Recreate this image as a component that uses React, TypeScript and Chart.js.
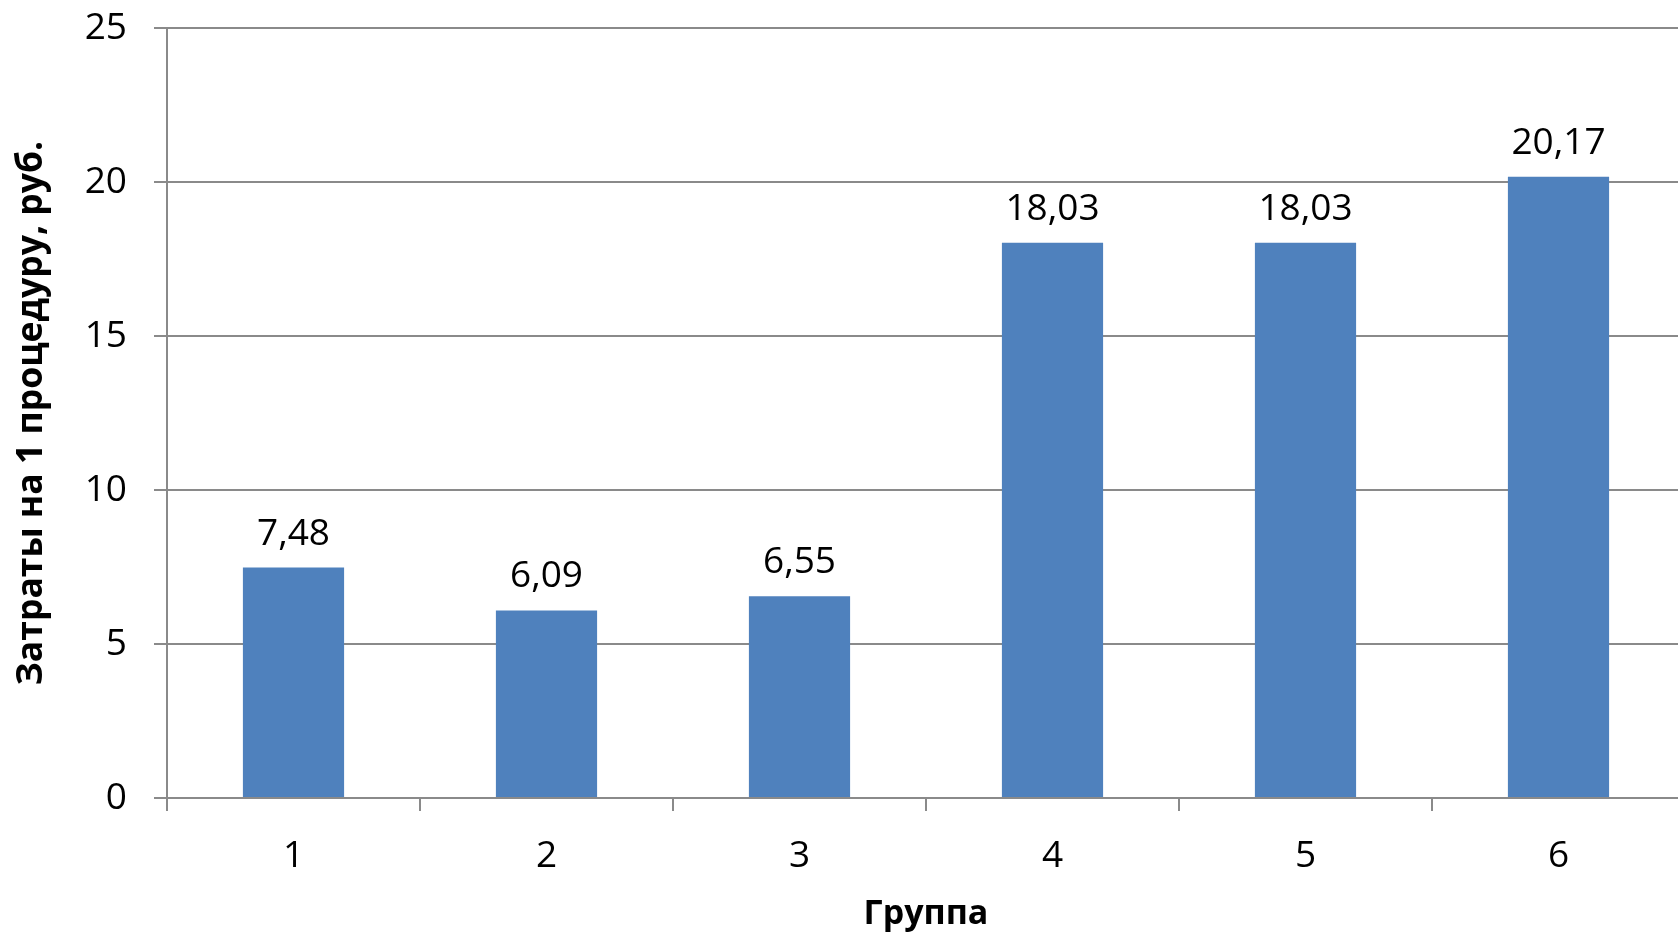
import React, { useEffect, useRef } from "react";
import { Chart, registerables } from "chart.js";

Chart.register(...registerables);

const categories = ["1", "2", "3", "4", "5", "6"];
const costs = [7.48, 6.09, 6.55, 18.03, 18.03, 20.17];
const yTicks = [0, 5, 10, 15, 20, 25];
const xTitle = "Группа";
const yTitle = "Затраты на 1 процедуру, руб.";

const FONT = "'Open Sans', 'DejaVu Sans', sans-serif";
const GRID = "#8a8a8a";

const labelPlugin = {
  id: "valueLabels",
  afterDatasetsDraw(chart: any) {
    const { ctx } = chart;
    const meta = chart.getDatasetMeta(0);
    ctx.save();
    ctx.font = `37px ${FONT}`;
    ctx.fillStyle = "#000";
    ctx.textAlign = "center";
    ctx.textBaseline = "alphabetic";
    meta.data.forEach((bar: any, i: number) => {
      const v = chart.data.datasets[0].data[i] as number;
      ctx.fillText(v.toFixed(2).replace(".", ","), bar.x, bar.y - 23);
    });
    ctx.restore();
  },
};

export default function App() {
  const ref = useRef<HTMLCanvasElement>(null);
  useEffect(() => {
    if (!ref.current) return;
    const chart = new Chart(ref.current, {
      type: "bar",
      data: {
        labels: categories,
        datasets: [
          {
            data: costs,
            backgroundColor: "#4f81bd",
            borderWidth: 0,
            barPercentage: 0.4,
            categoryPercentage: 1,
          },
        ],
      },
      options: {
        animation: false,
        responsive: false,
        maintainAspectRatio: false,
        devicePixelRatio: 1,
        layout: { padding: { top: 28, right: 15, left: 0, bottom: 0 } },
        plugins: {
          legend: { display: false },
          tooltip: { enabled: false },
          title: { display: false },
        },
        scales: {
          x: {
            grid: {
              display: true,
              drawOnChartArea: false,
              offset: true,
              color: GRID,
              lineWidth: 2,
              tickLength: 13,
              tickColor: GRID,
            },
            border: { display: true, color: GRID, width: 2 },
            ticks: {
              color: "#000",
              font: { family: FONT, size: 37 },
              padding: 23,
              maxRotation: 0,
            },
            title: {
              display: true,
              text: xTitle,
              color: "#000",
              font: { family: FONT, size: 34, weight: "bold" },
              padding: { top: 0, bottom: 2 },
            },
            afterFit: (scale: any) => {
              scale.height = 139;
              scale.paddingLeft = 0;
              scale.paddingRight = 0;
            },
          },
          y: {
            min: 0,
            max: 25,
            afterBuildTicks: (scale: any) => {
              scale.ticks = yTicks.map((v) => ({ value: v }));
            },
            grid: {
              color: GRID,
              lineWidth: 2,
              tickLength: 13,
              tickColor: GRID,
            },
            border: { display: true, color: GRID, width: 2 },
            ticks: {
              color: "#000",
              font: { family: FONT, size: 37 },
              padding: 27,
            },
            title: {
              display: true,
              text: yTitle,
              color: "#000",
              font: { family: FONT, size: 35.5, weight: "bold" },
              padding: { top: 11, bottom: 0 },
            },
            afterFit: (scale: any) => {
              scale.width = 167;
              scale.paddingTop = 0;
              scale.paddingBottom = 0;
            },
          },
        },
      },
      plugins: [labelPlugin],
    });
    return () => chart.destroy();
  }, []);
  return (
    <div
      style={{
        position: "fixed",
        left: 0,
        top: 0,
        width: 1678,
        height: 937,
        overflow: "hidden",
        background: "#fff",
      }}
    >
      <canvas ref={ref} width={1700} height={937} style={{ width: 1700, height: 937 }} />
    </div>
  );
}
